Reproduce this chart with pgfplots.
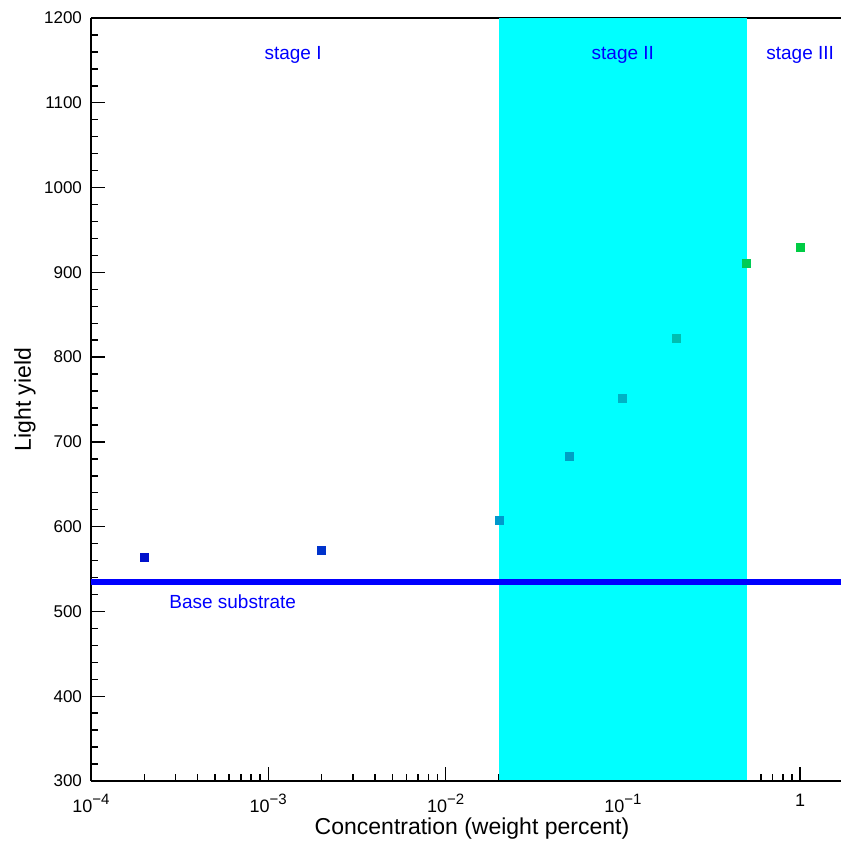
\documentclass[border=0pt]{standalone}
\usepackage{fontspec}
\setmainfont{Liberation Sans}
\usepackage{pgfplots}
\pgfplotsset{compat=1.18}

\definecolor{bandcyan}{RGB}{0,255,255}
\definecolor{txtblue}{RGB}{0,0,255}
\definecolor{p1}{RGB}{0,17,204}
\definecolor{p2}{RGB}{0,51,204}
\definecolor{p3}{RGB}{0,153,204}
\definecolor{p4}{RGB}{0,160,196}
\definecolor{p5}{RGB}{0,178,196}
\definecolor{p6}{RGB}{0,190,176}
\definecolor{p7}{RGB}{0,204,85}
\definecolor{p8}{RGB}{0,204,68}

\newcommand{\expo}[1]{\raisebox{0.45em}{\fontsize{7.5}{8}\selectfont #1}}

\begin{document}
\begin{tikzpicture}
\useasboundingbox (-45.5pt,-30pt) rectangle (375pt,390.5pt);
\begin{axis}[
    at={(0,0)}, anchor=south west,
    scale only axis,
    width=375pt, height=381.5pt,
    xmode=log,
    xmin=1e-4, xmax=1.7,
    ymin=300, ymax=1200,
    clip=false,
    axis x line*=bottom,
    axis y line*=left,
    axis line style={line width=0.9pt},
    tick style={black, line width=0.7pt},
    tick align=inside,
    major tick length=7pt,
    minor tick length=3.5pt,
    xtick={1e-4,1e-3,1e-2,1e-1,1},
    xticklabels={10\expo{−4},10\expo{−3},10\expo{−2},10\expo{−1},1},
    ytick={300,400,...,1200},
    minor y tick num=4,
    /pgf/number format/assume math mode=true,
    /pgf/number format/1000 sep={},
    ticklabel style={font=\fontsize{8.5}{10}\selectfont},
    xticklabel style={font=\fontsize{9}{10}\selectfont, yshift=-3pt},
    yticklabel style={xshift=-1pt},
    xlabel={Concentration (weight percent)},
    ylabel={Light yield},
    label style={font=\fontsize{11.5}{13}\selectfont},
    xlabel style={at={(axis description cs:0.508,-0.062)}, anchor=center},
    ylabel style={at={(axis description cs:-0.088,0.5)}, anchor=center, rotate=0},
]
% top frame line (hidden by the band where it crosses)
\draw[line width=0.9pt] (rel axis cs:0,1) -- (rel axis cs:1,1);

% stage II band
\addplot[fill=bandcyan, draw=none] coordinates {
    (0.02,300) (0.02,1200) (0.5,1200) (0.5,300)
} -- cycle;

% bottom frame line stays visible over the band
\draw[line width=0.9pt] (rel axis cs:0,0) -- (rel axis cs:1,0);

% base substrate level
\addplot[txtblue, line width=3pt] coordinates {(1e-4,535) (1.7,535)};

% measured points
\addplot[only marks, mark=square*, mark size=2pt, p1, mark options={draw=none}] coordinates {(0.0002,564)};
\addplot[only marks, mark=square*, mark size=2pt, p2, mark options={draw=none}] coordinates {(0.002,572)};
\addplot[only marks, mark=square*, mark size=2pt, p3, mark options={draw=none}] coordinates {(0.02,607)};
\addplot[only marks, mark=square*, mark size=2pt, p4, mark options={draw=none}] coordinates {(0.05,683)};
\addplot[only marks, mark=square*, mark size=2pt, p5, mark options={draw=none}] coordinates {(0.1,751)};
\addplot[only marks, mark=square*, mark size=2pt, p6, mark options={draw=none}] coordinates {(0.2,822)};
\addplot[only marks, mark=square*, mark size=2pt, p7, mark options={draw=none}] coordinates {(0.5,911)};
\addplot[only marks, mark=square*, mark size=2pt, p8, mark options={draw=none}] coordinates {(1,929)};

% labels
\node[txtblue, font=\fontsize{9.5}{11}\selectfont] at (axis cs:0.00138,1156) {stage I};
\node[txtblue, font=\fontsize{9.5}{11}\selectfont] at (axis cs:0.1,1156) {stage II};
\node[txtblue, font=\fontsize{9.5}{11}\selectfont] at (axis cs:1,1156) {stage III};
\node[txtblue, font=\fontsize{9.5}{11}\selectfont] at (axis cs:0.00063,512) {Base substrate};
\end{axis}
\end{tikzpicture}
\end{document}
